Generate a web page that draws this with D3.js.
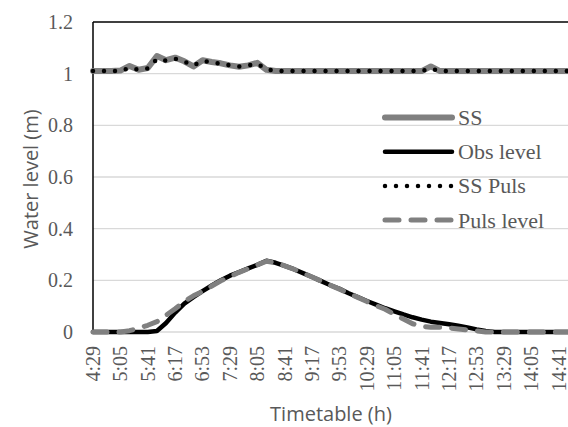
<!DOCTYPE html>
<html>
<head>
<meta charset="utf-8">
<script src="https://cdn.jsdelivr.net/npm/d3@7/dist/d3.min.js"></script>
<style>
  html, body { margin: 0; padding: 0; background: #fff; }
  svg { display: block; }
</style>
</head>
<body>
<svg id="chart" width="568" height="427"></svg>
<script>
// ---- data ----
const times = ["4:29","4:41","4:53","5:05","5:17","5:29","5:41","5:53","6:05","6:17","6:29","6:41",
  "6:53","7:05","7:17","7:29","7:41","7:53","8:05","8:17","8:29","8:41","8:53","9:05",
  "9:17","9:29","9:41","9:53","10:05","10:17","10:29","10:41","10:53","11:05","11:17","11:29",
  "11:41","11:53","12:05","12:17","12:29","12:41","12:53","13:05","13:17","13:29","13:41","13:53",
  "14:05","14:17","14:29","14:41","14:53"];
const tickLabels = ["4:29","5:05","5:41","6:17","6:53","7:29","8:05","8:41","9:17","9:53",
  "10:29","11:05","11:41","12:17","12:53","13:29","14:05","14:41"];
const yTicks = [0, 0.2, 0.4, 0.6, 0.8, 1, 1.2];
const ss = [1.01,1.01,1.01,1.012,1.03,1.015,1.022,1.068,1.052,1.062,1.048,1.028,1.052,1.045,1.04,1.032,
  1.027,1.032,1.042,1.015,1.01,1.01,1.01,1.01,1.01,1.01,1.01,1.01,1.01,1.01,1.01,1.01,1.01,1.01,1.01,
  1.01,1.01,1.028,1.01,1.01,1.01,1.01,1.01,1.01,1.01,1.01,1.01,1.01,1.01,1.01,1.01,1.01,1.01];
const obs = [0,0,0,0,0,0,0,0.004,0.035,0.075,0.11,0.135,0.158,0.18,0.2,0.218,0.232,0.246,0.26,0.276,
  0.268,0.256,0.243,0.228,0.213,0.197,0.181,0.167,0.15,0.135,0.12,0.106,0.092,0.08,0.068,0.057,0.048,
  0.04,0.035,0.03,0.024,0.018,0.01,0.004,0,0,0,0,0,0,0,0,0];
const ssPuls = [1.01,1.01,1.01,1.01,1.022,1.015,1.02,1.056,1.05,1.058,1.047,1.032,1.049,1.044,1.039,1.032,
  1.028,1.032,1.038,1.018,1.01,1.01,1.01,1.01,1.01,1.01,1.01,1.01,1.01,1.01,1.01,1.01,1.01,1.01,1.01,
  1.01,1.01,1.02,1.01,1.01,1.01,1.01,1.01,1.01,1.01,1.01,1.01,1.01,1.01,1.01,1.01,1.01,1.01];
const puls = [0,0,0,0,0.005,0.015,0.026,0.04,0.065,0.09,0.118,0.14,0.157,0.178,0.198,0.215,0.231,0.245,
  0.26,0.274,0.268,0.256,0.243,0.228,0.213,0.197,0.181,0.166,0.15,0.134,0.118,0.102,0.088,0.068,0.05,
  0.032,0.022,0.018,0.018,0.016,0.012,0.008,0.004,0,0,0,0,0,0,0,0,0,0];
const seriesNames = ["SS","Obs level","SS Puls","Puls level"];

// ---- layout ----
const svg = d3.select("#chart");
const pL = 93, pT = 22, pB = 332, pR = 567.8;
const serif = "'Liberation Serif', 'DejaVu Serif', serif";
const sans = "'Open Sans', 'Noto Sans', sans-serif";
const textCol = "#595959";

const x = d3.scalePoint().domain(times).range([pL, pR]);
const y = d3.scaleLinear().domain([0, 1.2]).range([pB, pT]);

// gridlines
svg.append("g").selectAll("line").data(yTicks.slice(0, -1)).join("line")
  .attr("x1", pL).attr("x2", 568).attr("y1", d => y(d)).attr("y2", d => y(d))
  .attr("stroke", "#d9d9d9").attr("stroke-width", 1.3);

// y axis labels
const yAxis = d3.axisLeft(y).tickValues(yTicks).tickSize(0).tickPadding(20)
  .tickFormat(d => d === 0 ? "0" : (d === 1 ? "1" : d3.format(".1f")(d)));
const gy = svg.append("g").attr("transform", `translate(${pL},0)`).call(yAxis);
gy.select(".domain").remove();
gy.selectAll("text").attr("font-family", serif).attr("font-size", 20).attr("fill", textCol);

// x axis labels
const xAxis = d3.axisBottom(x).tickValues(tickLabels).tickSize(0).tickPadding(0);
const gx = svg.append("g").attr("transform", `translate(0,${pB})`).call(xAxis);
gx.select(".domain").remove();
gx.selectAll("text")
  .attr("font-family", serif).attr("font-size", 20).attr("fill", textCol)
  .attr("text-anchor", "end")
  .attr("transform", "rotate(-90)")
  .attr("x", -14).attr("y", 0).attr("dy", "0.32em");

// plot border (left & top)
svg.append("line").attr("x1", pL).attr("x2", pL).attr("y1", pT).attr("y2", pB)
  .attr("stroke", "#000").attr("stroke-width", 1.5);
svg.append("line").attr("x1", pL).attr("x2", 568).attr("y1", pT).attr("y2", pT)
  .attr("stroke", "#000").attr("stroke-width", 1.5);

// series
const styles = [
  {data: ss, stroke: "#808080", width: 6, dash: null, cap: "round"},
  {data: obs, stroke: "#000000", width: 4.5, dash: null, cap: "round"},
  {data: ssPuls, stroke: "#000000", width: 4.5, dash: "0,11", cap: "round"},
  {data: puls, stroke: "#808080", width: 5, dash: "14,12", cap: "round"}
];
const line = d3.line().x((d, i) => x(times[i])).y(d => y(d));
svg.append("defs").append("clipPath").attr("id", "clip")
  .append("rect").attr("x", pL - 4).attr("y", pT).attr("width", 568 - pL + 4).attr("height", pB - pT + 6);
const gLines = svg.append("g").attr("clip-path", "url(#clip)");
styles.forEach(s => {
  gLines.append("path").datum(s.data)
    .attr("d", line)
    .attr("fill", "none")
    .attr("stroke", s.stroke)
    .attr("stroke-width", s.width)
    .attr("stroke-linecap", s.cap)
    .attr("stroke-linejoin", "round")
    .attr("stroke-dasharray", s.dash);
});

// legend
const legY0 = 117.5, legStep = 34.2;
const leg = svg.append("g");
styles.forEach((s, i) => {
  const ly = legY0 + i * legStep;
  leg.append("line").attr("x1", 385).attr("x2", 452).attr("y1", ly).attr("y2", ly)
    .attr("stroke", s.stroke).attr("stroke-width", s.width)
    .attr("stroke-linecap", s.cap).attr("stroke-dasharray", s.dash);
  leg.append("text").attr("x", 458).attr("y", ly + 7.5)
    .attr("font-family", serif).attr("font-size", 22).attr("fill", textCol)
    .text(seriesNames[i]);
});

// axis titles
svg.append("text").attr("transform", `translate(38,${(pT + pB) / 2 + 2}) rotate(-90)`)
  .attr("text-anchor", "middle").attr("font-family", sans).attr("font-size", 20)
  .attr("fill", textCol).text("Water level (m)");
svg.append("text").attr("x", 331).attr("y", 421)
  .attr("text-anchor", "middle").attr("font-family", sans).attr("font-size", 20)
  .attr("fill", textCol).text("Timetable (h)");
</script>
</body>
</html>
